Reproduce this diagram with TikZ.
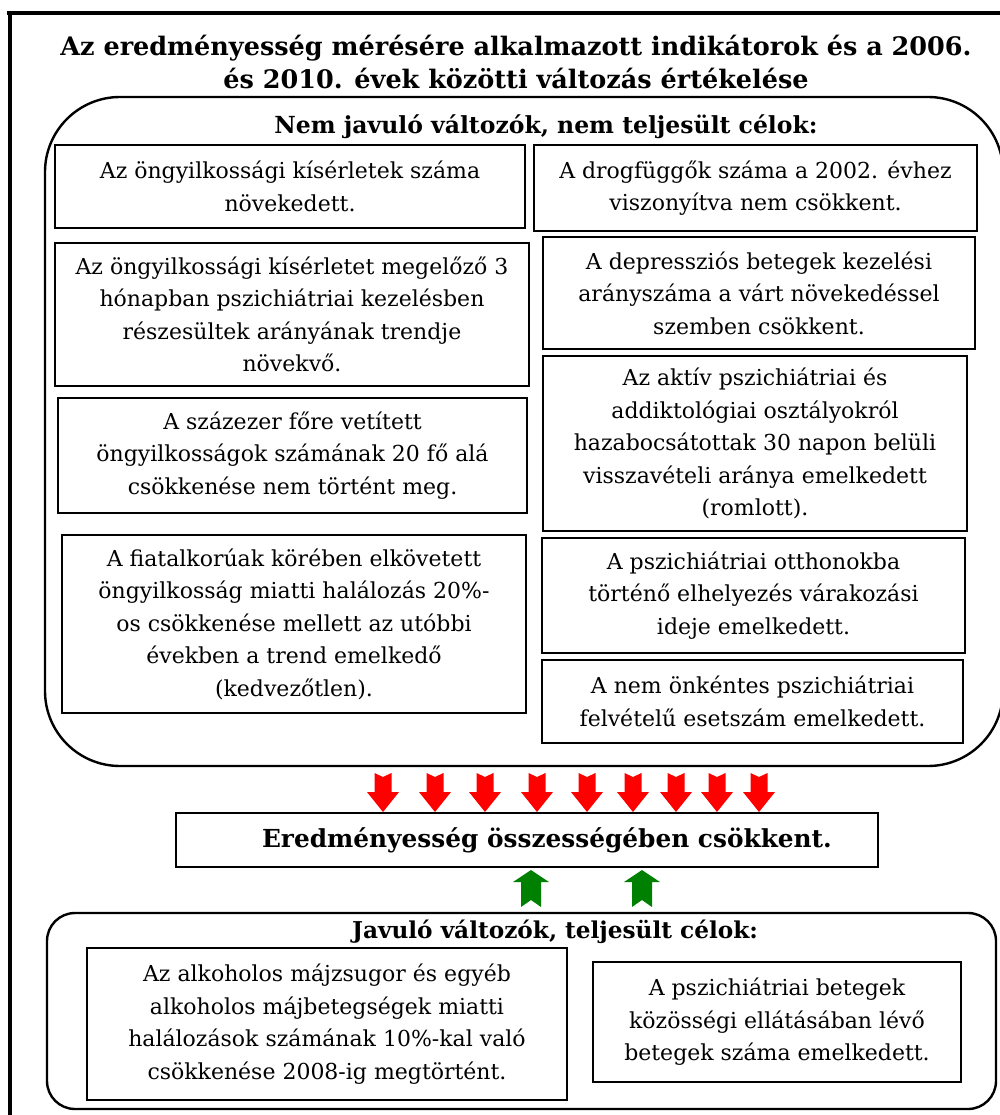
\documentclass[tikz,border=0pt]{standalone}
\usepackage{fontspec}
\setmainfont{DejaVu Serif}
\definecolor{arrred}{RGB}{255,0,0}
\definecolor{arrgreen}{RGB}{0,128,0}
\begin{document}
\begin{tikzpicture}[x=1pt,y=-1pt,
  box/.style={draw, line width=1.4pt, align=center, inner sep=0pt,
    font=\fontsize{22}{32.5}\selectfont},
  headtext/.style={align=center, inner sep=0pt, font=\bfseries\fontsize{23.5}{33}\selectfont},
  group/.style={draw, line width=2.4pt},
  downarr/.pic={\fill[arrred] (-8.5,0) -- (0,4) -- (8.5,0) -- (8.5,19) -- (16,19) -- (0,39) -- (-16,19) -- (-8.5,19) -- cycle;},
  uparr/.pic={\fill[arrgreen] (-10,37) -- (0,30) -- (10,37) -- (10,12) -- (18,12) -- (0,0) -- (-18,12) -- (-10,12) -- cycle;}
]
\useasboundingbox (0,0) rectangle (1000,1115);
% outer frame (only top and left visible)
\draw[line width=3.5pt] (7,13) -- (1000,13);
\draw[line width=3.5pt] (10,13) -- (10,1115);

% title
\node[headtext, font=\bfseries\fontsize{25.5}{33}\selectfont] (title) at (516,62)
  {Az eredményesség mérésére alkalmazott indikátorok és a 2006.\\ és 2010. évek közötti változás értékelése};

% upper group
\draw[group, rounded corners=75pt] (45,97) rectangle (1003,766);
\node[headtext] (hdrA) at (546,127) {Nem javuló változók, nem teljesült célok:};

\node[box, minimum width=470pt, minimum height=83pt] (L1) at (290,186.5)
  {Az öngyilkossági kísérletek száma\\ növekedett.};
\node[box, minimum width=474pt, minimum height=143pt] (L2) at (292,314.5)
  {Az öngyilkossági kísérletet megelőző 3\\ hónapban pszichiátriai kezelésben\\ részesültek arányának trendje\\ növekvő.};
\node[box, minimum width=469pt, minimum height=115pt] (L3) at (292.5,455.5)
  {A százezer főre vetített\\ öngyilkosságok számának 20 fő alá\\ csökkenése nem történt meg.};
\node[box, minimum width=464pt, minimum height=178pt] (L4) at (294,624)
  {A fiatalkorúak körében elkövetett\\ öngyilkosság miatti halálozás 20\%-\\ os csökkenése mellett az utóbbi\\ években a trend emelkedő\\ (kedvezőtlen).};

\node[box, minimum width=443pt, minimum height=86pt] (R1) at (755.5,188)
  {A drogfüggők száma a 2002. évhez\\ viszonyítva nem csökkent.};
\node[box, minimum width=432pt, minimum height=112pt] (R2) at (759,293)
  {A depressziós betegek kezelési\\ arányszáma a várt növekedéssel\\ szemben csökkent.};
\node[box, minimum width=424pt, minimum height=175pt] (R3) at (755,443.5)
  {Az aktív pszichiátriai és\\ addiktológiai osztályokról\\ hazabocsátottak 30 napon belüli\\ visszavételi aránya emelkedett\\ (romlott).};
\node[box, minimum width=423pt, minimum height=115pt] (R4) at (753.5,595.5)
  {A pszichiátriai otthonokba\\ történő elhelyezés várakozási\\ ideje emelkedett.};
\node[box, minimum width=421pt, minimum height=83pt] (R5) at (752.5,701.5)
  {A nem önkéntes pszichiátriai\\ felvételű esetszám emelkedett.};

% red arrows
\foreach \cx in {383,435,485,537,587,633,676,717,759}
  \pic at (\cx,773) {downarr};

% middle box
\node[box, minimum width=702pt, minimum height=54pt] (mid) at (527,840) {};
\node[headtext, font=\bfseries\fontsize{24.8}{30}\selectfont] (midtext) at (547,840)
  {Eredményesség összességében csökkent.};

% green arrows
\foreach \cx in {531,642}
  \pic at (\cx,870) {uparr};

% lower group
\draw[group, rounded corners=28pt] (47,913) rectangle (996,1109);
\node[headtext, font=\bfseries\fontsize{23.2}{33}\selectfont] (hdrB) at (555,932) {Javuló változók, teljesült célok:};
\node[box, minimum width=480pt, minimum height=152pt] (B1) at (327,1024)
  {Az alkoholos májzsugor és egyéb\\ alkoholos májbetegségek miatti\\ halálozások számának 10\%-kal való\\ csökkenése 2008-ig megtörtént.};
\node[box, minimum width=368pt, minimum height=120pt] (B2) at (777,1022)
  {A pszichiátriai betegek\\ közösségi ellátásában lévő\\ betegek száma emelkedett.};
\end{tikzpicture}
\end{document}
